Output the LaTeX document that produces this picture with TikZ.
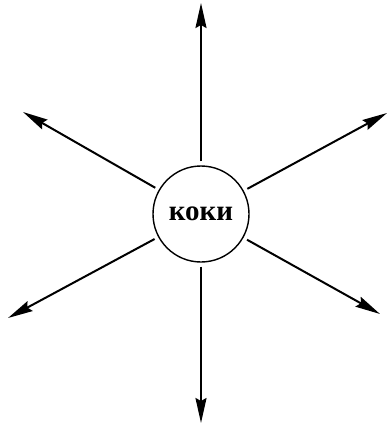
\documentclass[tikz,border=0pt]{standalone}
\usepackage{fontspec}
\setmainfont{Liberation Serif}
\usetikzlibrary{arrows.meta}
\begin{document}
\begin{tikzpicture}[x=1pt,y=1pt,
  hub/.style={circle,draw,line width=1.4pt,minimum size=96pt,inner sep=0pt,font=\fontsize{29}{31}\selectfont\bfseries},
  ray/.style={line width=2pt,-{Stealth[length=25pt,width=11pt,inset=3pt]},shorten <=4pt}]
\useasboundingbox (0,0) rectangle (388,-425);
\node[hub] (c) at (201,-214) {коки};
\coordinate (tu) at (201,-3);
\coordinate (td) at (201,-423);
\coordinate (tul) at (23,-112);
\coordinate (tur) at (387,-113);
\coordinate (tll) at (8,-318);
\coordinate (tlr) at (380,-314);
\foreach \t in {tu,td,tul,tur,tll,tlr} \draw[ray] (c) -- (\t);
\end{tikzpicture}
\end{document}
